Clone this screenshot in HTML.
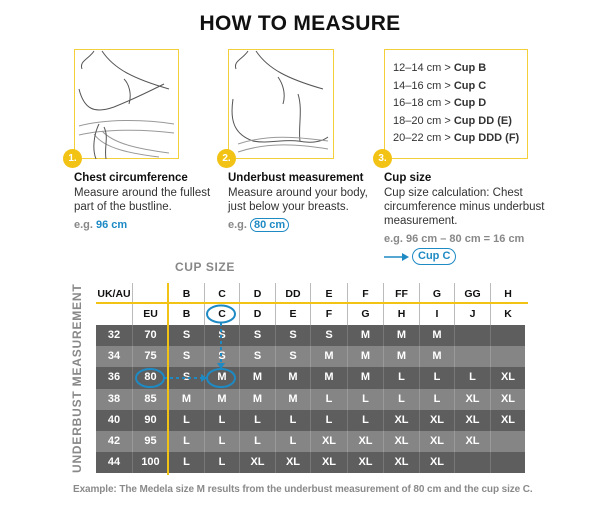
<!DOCTYPE html>
<html><head><meta charset="utf-8"><style>
*{margin:0;padding:0;box-sizing:border-box}
body{width:600px;height:508px;background:#fff;position:relative;overflow:hidden;font-family:"Liberation Sans",sans-serif;color:#111}
.a{position:absolute;white-space:nowrap}
.box{position:absolute;border:1.5px solid #f3cf3c;background:#fff}
.num{position:absolute;width:19px;height:19px;border-radius:50%;background:#f2c314;color:#fff;font-size:10px;font-weight:bold;text-align:center;line-height:19px}
.h{font-size:11.5px;font-weight:bold}
.t{font-size:11.5px;color:#333;line-height:14px}
.eg{font-size:11px;color:#888;font-weight:bold}
.bl{color:#1e8ac4}
.cup{font-size:11px;color:#333;line-height:17.5px}
.r{position:absolute;left:96px;width:429px;display:grid;grid-template-columns:36px 36px 36px 35px 36px 35px 37px 36px 36px 35px 36px 35px;font-size:11px;font-weight:bold;text-align:center}
.r span{border-left:1px solid #777}
.r span:first-child{border-left:none}
.hd span{border-left:1px solid #bbb;color:#111;font-size:10.5px}
.d{background:#5e5e5e;color:#fff;height:21.2px;line-height:21.2px}
.l{background:#858585;color:#fff;height:21.2px;line-height:21.2px}
.l span{border-left-color:#9a9a9a}
</style></head><body>
<div class="a" style="left:0;width:600px;top:12px;text-align:center;font-size:21px;font-weight:bold;letter-spacing:0.3px">HOW TO MEASURE</div>

<div class="box" style="left:74px;top:49px;width:105px;height:110px"></div>
<svg class="a" style="left:74px;top:49px" width="105" height="110" fill="none" stroke="#555" stroke-width="1">
<path d="M20 2 C15 10,5 12,8 20 M28 2 C40 20,60 30,95 40 M5 40 C10 60,20 65,40 58 C55 52,70 45,90 35 M50 30 C55 35,58 45,55 55"/>
<path d="M5 77 C30 70,70 70,100 75 M5 86 C30 80,70 80,100 84 M20 85 C30 100,60 105,85 108 M28 82 C40 95,65 100,95 104" stroke="#999"/>
<path d="M25 75 C20 85,18 100,22 110 M30 78 C35 88,30 98,32 110"/>
</svg>
<div class="num" style="left:63px;top:149px">1.</div>

<div class="box" style="left:228px;top:49px;width:106px;height:110px"></div>
<svg class="a" style="left:228px;top:49px" width="106" height="110" fill="none" stroke="#555" stroke-width="1">
<path d="M20 2 C15 10,5 12,8 20 M28 2 C40 20,60 30,95 40 M5 50 C2 70,5 85,25 92 C40 95,55 90,70 92 C85 95,95 92,100 88 M50 28 C55 35,58 45,55 55 M70 45 C75 60,70 80,72 92"/>
<path d="M10 95 C40 85,70 88,100 92 M10 103 C40 93,70 95,100 100" stroke="#999"/>
</svg>
<div class="num" style="left:217px;top:149px">2.</div>

<div class="box" style="left:384px;top:49px;width:144px;height:110px"></div>
<div class="a cup" style="left:393px;top:60px">12–14 cm &gt; <b>Cup B</b><br>14–16 cm &gt; <b>Cup C</b><br>16–18 cm &gt; <b>Cup D</b><br>18–20 cm &gt; <b>Cup DD (E)</b><br>20–22 cm &gt; <b>Cup DDD (F)</b></div>
<div class="num" style="left:373px;top:149px">3.</div>

<div class="a h" style="left:74px;top:172px">Chest circumference</div>
<div class="a t" style="left:74px;top:186px">Measure around the fullest<br>part of the bustline.</div>
<div class="a eg" style="left:74px;top:219px">e.g. <span class="bl">96 cm</span></div>

<div class="a h" style="left:228px;top:172px">Underbust measurement</div>
<div class="a t" style="left:228px;top:186px">Measure around your body,<br>just below your breasts.</div>
<div class="a eg" style="left:228px;top:219px">e.g. <span class="bl" style="border:1.5px solid #1e8ac4;border-radius:10px;padding:0 3px">80 cm</span></div>

<div class="a h" style="left:384px;top:172px">Cup size</div>
<div class="a t" style="left:384px;top:186px">Cup size calculation: Chest<br>circumference minus underbust<br>measurement.</div>
<div class="a eg" style="left:384px;top:233px">e.g. 96 cm – 80 cm = 16 cm</div>
<svg class="a" style="left:384px;top:252px" width="30" height="10"><path d="M0 5H20" stroke="#1e8ac4" stroke-width="1.5"/><path d="M18 1L25 5L18 9Z" fill="#1e8ac4"/></svg>
<div class="a eg bl" style="left:412px;top:248px;border:1.5px solid #1e8ac4;border-radius:10px;padding:0 5px;line-height:15px">Cup C</div>

<div class="a" style="left:175px;top:260px;font-size:12px;font-weight:bold;color:#888;letter-spacing:0.6px">CUP SIZE</div>
<div class="a" style="left:70px;top:473px;transform:rotate(-90deg);transform-origin:0 0;font-size:12px;font-weight:bold;color:#888;letter-spacing:0.8px">UNDERBUST MEASUREMENT</div>

<div class="r hd" style="top:283px;height:20px;line-height:22px"><span>UK/AU</span><span></span><span>B</span><span>C</span><span>D</span><span>DD</span><span>E</span><span>F</span><span>FF</span><span>G</span><span>GG</span><span>H</span></div>
<div class="r hd" style="top:303px;height:22px;line-height:22px"><span></span><span>EU</span><span>B</span><span>C</span><span>D</span><span>E</span><span>F</span><span>G</span><span>H</span><span>I</span><span>J</span><span>K</span></div>
<div class="r d" style="top:325px"><span>32</span><span>70</span><span>S</span><span>S</span><span>S</span><span>S</span><span>S</span><span>M</span><span>M</span><span>M</span><span></span><span></span></div>
<div class="r l" style="top:346.2px"><span>34</span><span>75</span><span>S</span><span>S</span><span>S</span><span>S</span><span>M</span><span>M</span><span>M</span><span>M</span><span></span><span></span></div>
<div class="r d" style="top:367.4px"><span>36</span><span>80</span><span>S</span><span>M</span><span>M</span><span>M</span><span>M</span><span>M</span><span>L</span><span>L</span><span>L</span><span>XL</span></div>
<div class="r l" style="top:388.6px"><span>38</span><span>85</span><span>M</span><span>M</span><span>M</span><span>M</span><span>L</span><span>L</span><span>L</span><span>L</span><span>XL</span><span>XL</span></div>
<div class="r d" style="top:409.8px"><span>40</span><span>90</span><span>L</span><span>L</span><span>L</span><span>L</span><span>L</span><span>L</span><span>XL</span><span>XL</span><span>XL</span><span>XL</span></div>
<div class="r l" style="top:431px"><span>42</span><span>95</span><span>L</span><span>L</span><span>L</span><span>L</span><span>XL</span><span>XL</span><span>XL</span><span>XL</span><span>XL</span><span></span></div>
<div class="r d" style="top:452.2px"><span>44</span><span>100</span><span>L</span><span>L</span><span>XL</span><span>XL</span><span>XL</span><span>XL</span><span>XL</span><span>XL</span><span></span><span></span></div>

<svg class="a" style="left:0;top:0" width="600" height="508">
<line x1="96" y1="303" x2="528" y2="303" stroke="#f2c314" stroke-width="2"/>
<line x1="168" y1="283" x2="168" y2="475" stroke="#f2c314" stroke-width="2"/>
<g stroke="#1e8ac4" stroke-width="2" fill="none">
<ellipse cx="221" cy="314" rx="14" ry="8.5"/><ellipse cx="221" cy="378" rx="14" ry="9"/><ellipse cx="150" cy="378" rx="14" ry="9"/>
<path d="M221 323V368" stroke-dasharray="3 3"/><path d="M164 378H207" stroke-dasharray="3 3"/></g>
<path d="M217 363L221 369L225 363Z M201 374L207 378L201 382Z" fill="#1e8ac4"/>
</svg>
<div class="a" style="left:73px;top:484px;font-size:10px;font-weight:bold;color:#8a8a8a;letter-spacing:-0.1px">Example: The Medela size M results from the underbust measurement of 80 cm and the cup size C.</div>
</body></html>
